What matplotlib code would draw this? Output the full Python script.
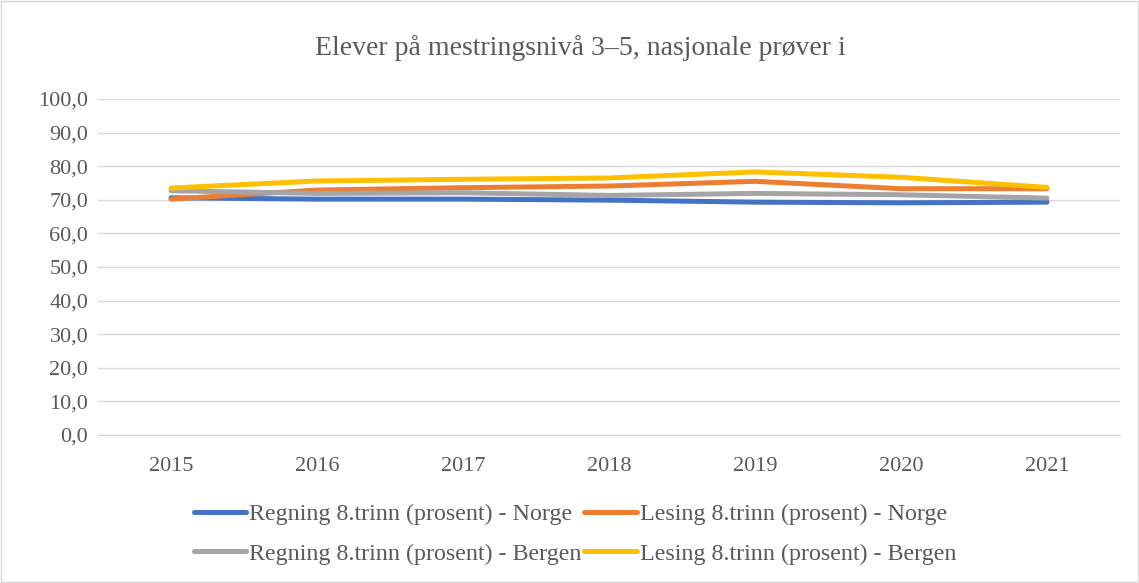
import matplotlib
matplotlib.use("Agg")
import matplotlib.pyplot as plt

years = ["2015", "2016", "2017", "2018", "2019", "2020", "2021"]
regning_norge = [70.6, 70.2, 70.2, 69.9, 69.3, 69.1, 69.3]
lesing_norge = [70.2, 72.9, 73.6, 74.1, 75.5, 73.3, 73.3]
regning_bergen = [72.7, 71.9, 72.1, 71.3, 71.9, 71.5, 70.5]
lesing_bergen = [73.5, 75.6, 76.1, 76.5, 78.3, 76.7, 73.7]

series = [
    ("Regning 8.trinn (prosent) - Norge", regning_norge, "#4472C4"),
    ("Lesing 8.trinn (prosent) - Norge", lesing_norge, "#ED7D31"),
    ("Regning 8.trinn (prosent) - Bergen", regning_bergen, "#A5A5A5"),
    ("Lesing 8.trinn (prosent) - Bergen", lesing_bergen, "#FFC000"),
]

plt.rcParams['font.family'] = ['Liberation Serif', 'DejaVu Serif']
txt = "#595959"

fig = plt.figure(figsize=(11.39, 5.83), dpi=100)
fig.patches.append(plt.Rectangle((0.001, 0.001), 0.998, 0.998, transform=fig.transFigure,
                                 fill=False, edgecolor="#d9d9d9", linewidth=1))
ax = fig.add_axes([98/1139, 1-435/583, 1022/1139, 336/583])

x = list(range(len(years)))
for label, vals, color in series:
    ax.plot(x, vals, color=color, linewidth=3.6, solid_capstyle="round",
            solid_joinstyle="round", label=label)

ax.set_xlim(-0.5, 6.5)
ax.set_ylim(0, 100)
ax.set_yticks(range(0, 101, 10))
ax.set_yticklabels([f"{v},0" for v in range(0, 101, 10)])
ax.set_xticks(x)
ax.set_xticklabels(years)
ax.tick_params(axis="both", length=0, labelsize=16, colors=txt)
ax.tick_params(axis="y", pad=7)
ax.tick_params(axis="x", pad=16)
ax.grid(axis="y", color="#d9d9d9", linewidth=1)
ax.set_axisbelow(True)
for s in ["top", "right", "left"]:
    ax.spines[s].set_visible(False)
ax.spines["bottom"].set_color("#d9d9d9")

fig.text(580/1139, 1-48/583, "Elever på mestringsnivå 3–5, nasjonale prøver i",
         ha="center", va="center", fontsize=20, color=txt)

handles, labels = ax.get_legend_handles_labels()
order = [0, 2, 1, 3]
leg = fig.legend([handles[i] for i in order], [labels[i] for i in order], ncol=2,
                 loc="center", bbox_to_anchor=(575/1139, 1-534/583),
                 frameon=False, fontsize=17.3, handlelength=2.2, handletextpad=0.12,
                 columnspacing=0.1, labelspacing=0.75)
for t in leg.get_texts():
    t.set_color(txt)

fig.savefig("out.png", dpi=100)
